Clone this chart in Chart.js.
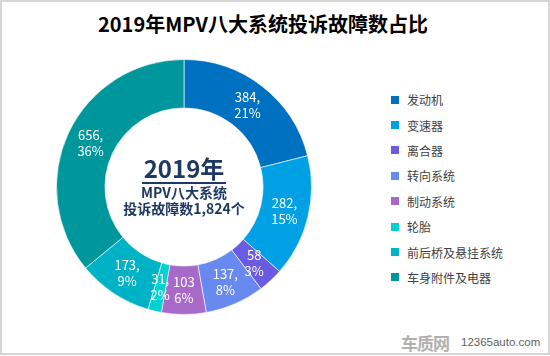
<!DOCTYPE html>
<html>
<head>
<meta charset="utf-8">
<script src="https://cdn.jsdelivr.net/npm/chart.js@4/dist/chart.umd.min.js"></script>
<style>
  html, body { margin:0; padding:0; background:#fff; }
  body { width:550px; height:356px; position:relative; overflow:hidden;
         font-family:"Noto Sans CJK SC","Noto Sans",sans-serif; }
  #frame { position:absolute; left:0; top:0; width:546px; height:351px; border:2px solid #d6d6d6; }
  #title { position:absolute; left:0; top:9px; width:526px; text-align:center;
           font-size:20px; font-weight:bold; color:#000; line-height:30px; }
  #chartBox { position:absolute; left:56px; top:58px; width:256px; height:258px; }
  #center { position:absolute; left:104px; top:154px; width:160px; text-align:center; color:#1f3864; font-weight:bold; }
  #center .yr { font-size:24px; line-height:28px; display:inline-block; border-bottom:2px solid #1f3864; padding:0 2px; }
  #center .ln { font-size:14px; line-height:16px; }
  #legend { position:absolute; left:391px; top:87px; }
  .li { height:25.4px; display:flex; align-items:center; font-size:12px; color:#404040; white-space:nowrap; }
  .sw { width:8px; height:8px; margin-right:8px; }
  #wm1 { position:absolute; left:401px; top:330px; font-size:17px; font-weight:bold; color:#b0b0b0; letter-spacing:-1px; }
  #wm2 { position:absolute; left:461px; top:336px; font-size:11.5px; color:#606060; font-family:"Liberation Sans",Arial,sans-serif; }
</style>
</head>
<body>
<div id="frame"></div>
<div id="title">2019年MPV八大系统投诉故障数占比</div>
<div id="chartBox"><canvas id="c"></canvas></div>
<div id="center">
  <div class="yr">2019年</div>
  <div class="ln">MPV八大系统</div>
  <div class="ln">投诉故障数1,824个</div>
</div>
<div id="legend"></div>
<div id="wm1">车质网</div>
<div id="wm2">12365auto.com</div>
<script>
const categories = ['发动机','变速器','离合器','转向系统','制动系统','轮胎','前后桥及悬挂系统','车身附件及电器'];
const values = [384, 282, 58, 137, 103, 31, 173, 656];
const valueSeparators = [',', ',', '', ',', '', ',', ',', ','];
const colors = ['#0070c0','#00a1e4','#6a5be0','#6889f0','#a86ac8','#00d2d2','#00b2c6','#00979c'];

const total = values.reduce((a,b)=>a+b,0);

const legend = document.getElementById('legend');
categories.forEach((c,i)=>{
  const d = document.createElement('div'); d.className='li';
  d.innerHTML = '<span class="sw" style="background:'+colors[i]+'"></span><span>'+c+'</span>';
  legend.appendChild(d);
});

const labelPlugin = {
  id:'arcLabels',
  afterDatasetsDraw(chart){
    const ctx = chart.ctx;
    const meta = chart.getDatasetMeta(0);
    ctx.save();
    ctx.fillStyle = '#fff';
    ctx.font = '13px "Noto Sans CJK SC","Noto Sans",sans-serif';
    ctx.textAlign = 'center';
    ctx.textBaseline = 'middle';
    meta.data.forEach((arc,i)=>{
      const p = arc.tooltipPosition();
      const pct = Math.round(values[i]/total*100) + '%';
      ctx.fillText(values[i] + valueSeparators[i], p.x, p.y - 8);
      ctx.fillText(pct, p.x, p.y + 8);
    });
    ctx.restore();
  }
};

new Chart(document.getElementById('c'), {
  type:'doughnut',
  data:{ labels:categories, datasets:[{ data:values, backgroundColor:colors, borderColor:'rgba(255,255,255,0.6)', borderWidth:1 }] },
  options:{
    responsive:true, maintainAspectRatio:false, animation:false,
    cutout:'62%',
    layout:{ padding:0 },
    plugins:{ legend:{ display:false }, tooltip:{ enabled:false }, title:{ display:false } }
  },
  plugins:[labelPlugin]
});
</script>
</body>
</html>
